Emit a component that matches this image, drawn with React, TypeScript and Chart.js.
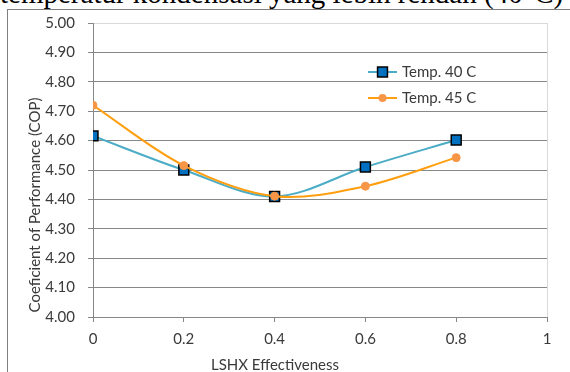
import React, { useEffect, useRef } from 'react';
import { Chart, registerables } from 'chart.js';

Chart.register(...registerables);

const lshx = [0, 0.2, 0.4, 0.6, 0.8];
const cop40 = [4.616, 4.5, 4.41, 4.51, 4.602];
const cop45 = [4.72, 4.515, 4.411, 4.445, 4.542];
const seriesNames = ['Temp. 40 C', 'Temp. 45 C'];
const xTicks = [0, 0.2, 0.4, 0.6, 0.8, 1];
const xTickLabels = ['0', '0.2', '0.4', '0.6', '0.8', '1'];
const yTicks = [4.0, 4.1, 4.2, 4.3, 4.4, 4.5, 4.6, 4.7, 4.8, 4.9, 5];
const yTickLabels = ['4.00', '4.10', '4.20', '4.30', '4.40', '4.50', '4.60', '4.70', '4.80', '4.90', '5.00'];
const xTitle = 'LSHX Effectiveness';
const yTitle = 'Coeficient of Performance (COP)';
const headingText = 'temperatur kondensasi yang lebih rendah (40°C)';

const FONT = 'Lato, "DejaVu Sans", sans-serif';
const TEXT = '#3a3a3a';
const GRID = '#878787';

const decor = {
  id: 'decor',
  beforeDatasetsDraw(chart: any) {
    const { ctx, chartArea: a } = chart;
    ctx.save();
    ctx.strokeStyle = '#D9D9D9';
    ctx.lineWidth = 1;
    ctx.beginPath();
    ctx.moveTo(Math.round(a.right) + 0.5, a.top);
    ctx.lineTo(Math.round(a.right) + 0.5, a.bottom);
    ctx.stroke();
    ctx.restore();
  },
  afterDraw(chart: any) {
    const { ctx, chartArea: a } = chart;
    ctx.save();
    ctx.font = `15px ${FONT}`;
    ctx.fillStyle = TEXT;
    ctx.textAlign = 'center';
    ctx.textBaseline = 'middle';
    ctx.fillText(xTitle, a.left + 182, 365);
    ctx.save();
    ctx.translate(35, a.top + 182);
    ctx.rotate(-Math.PI / 2);
    ctx.fillText(yTitle, 0, 0);
    ctx.restore();

    // legend
    const ds = chart.data.datasets;
    const rows = [a.top + 49, a.top + 75];
    ds.forEach((d: any, i: number) => {
      const y = rows[i];
      const x0 = a.left + 275;
      const x1 = a.left + 304;
      const cx = (x0 + x1) / 2;
      ctx.strokeStyle = d.borderColor;
      ctx.lineWidth = 2;
      ctx.beginPath();
      ctx.moveTo(x0, y);
      ctx.lineTo(x1, y);
      ctx.stroke();
      if (d.pointStyle === 'rect') {
        const s = d.pointRadius * Math.SQRT1_2;
        ctx.fillStyle = d.pointBackgroundColor;
        ctx.strokeStyle = d.pointBorderColor;
        ctx.lineWidth = d.pointBorderWidth;
        ctx.beginPath();
        ctx.rect(cx - s, y - s, 2 * s, 2 * s);
        ctx.fill();
        ctx.stroke();
      } else {
        ctx.fillStyle = d.pointBackgroundColor;
        ctx.beginPath();
        ctx.arc(cx, y, d.pointRadius, 0, Math.PI * 2);
        ctx.fill();
      }
      ctx.fillStyle = TEXT;
      ctx.textAlign = 'left';
      ctx.textBaseline = 'middle';
      ctx.fillText(d.label, a.left + 309, y);
    });
    ctx.restore();
  },
};

export default function App() {
  const ref = useRef<HTMLCanvasElement>(null);
  useEffect(() => {
    if (!ref.current) return;
    const chart = new Chart(ref.current, {
      type: 'line',
      data: {
        datasets: [
          {
            label: seriesNames[0],
            data: lshx.map((x, i) => ({ x, y: cop40[i] })),
            borderColor: '#4BACC6',
            borderWidth: 2,
            pointStyle: 'rect',
            pointRadius: 7,
            pointBackgroundColor: '#0070C0',
            pointBorderColor: '#000000',
            pointBorderWidth: 1.5,
            tension: 0.33,
            order: 2,
          } as any,
          {
            label: seriesNames[1],
            data: lshx.map((x, i) => ({ x, y: cop45[i] })),
            borderColor: '#FF9E0F',
            borderWidth: 2,
            pointStyle: 'circle',
            pointRadius: 4,
            pointBackgroundColor: '#F79646',
            pointBorderColor: '#F79646',
            pointBorderWidth: 1,
            tension: 0.33,
            order: 1,
          } as any,
        ],
      },
      options: {
        animation: false,
        responsive: false,
        layout: { padding: { top: 23, right: 23, left: 0, bottom: 0 } },
        plugins: { legend: { display: false }, tooltip: { enabled: false } },
        scales: {
          x: {
            type: 'linear',
            min: 0,
            max: 1,
            afterBuildTicks: (s: any) => {
              s.ticks = xTicks.map((v) => ({ value: v }));
            },
            afterFit: (s: any) => {
              s.height = 55;
            },
            ticks: {
              callback: (_v: any, i: number) => xTickLabels[i],
              font: { family: FONT, size: 15 },
              color: TEXT,
              padding: 8,
              maxRotation: 0,
            },
            grid: { drawOnChartArea: false, drawTicks: true, tickLength: 5, tickColor: GRID },
            border: { color: GRID, width: 1 },
          },
          y: {
            type: 'linear',
            min: 4,
            max: 5,
            afterBuildTicks: (s: any) => {
              s.ticks = yTicks.map((v) => ({ value: v }));
            },
            afterFit: (s: any) => {
              s.width = 93;
            },
            ticks: {
              callback: (_v: any, i: number) => yTickLabels[i],
              font: { family: FONT, size: 15 },
              color: TEXT,
              padding: 13,
            },
            grid: {
              color: (c: any) => (c.tick && c.tick.value === 5 ? '#D9D9D9' : GRID),
              tickColor: GRID,
              tickLength: 5,
            },
            border: { color: GRID, width: 1 },
          },
        },
      },
      plugins: [decor],
    });
    return () => chart.destroy();
  }, []);

  return (
    <div style={{ position: 'absolute', left: 0, top: 0, width: 570, height: 372, overflow: 'hidden', background: '#fff' }}>
      <div
        style={{
          position: 'absolute',
          left: 0,
          top: -19,
          whiteSpace: 'nowrap',
          fontFamily: '"Liberation Serif", "Times New Roman", serif',
          fontSize: 29,
          lineHeight: '24px',
          color: '#000',
        }}
      >
        {headingText}
      </div>
      <div
        style={{
          position: 'absolute',
          left: 7,
          top: 9,
          width: 620,
          height: 420,
          border: '1px solid #7f7f7f',
        }}
      />
      <canvas ref={ref} width={570} height={372} style={{ position: 'absolute', left: 0, top: 0 }} />
    </div>
  );
}
